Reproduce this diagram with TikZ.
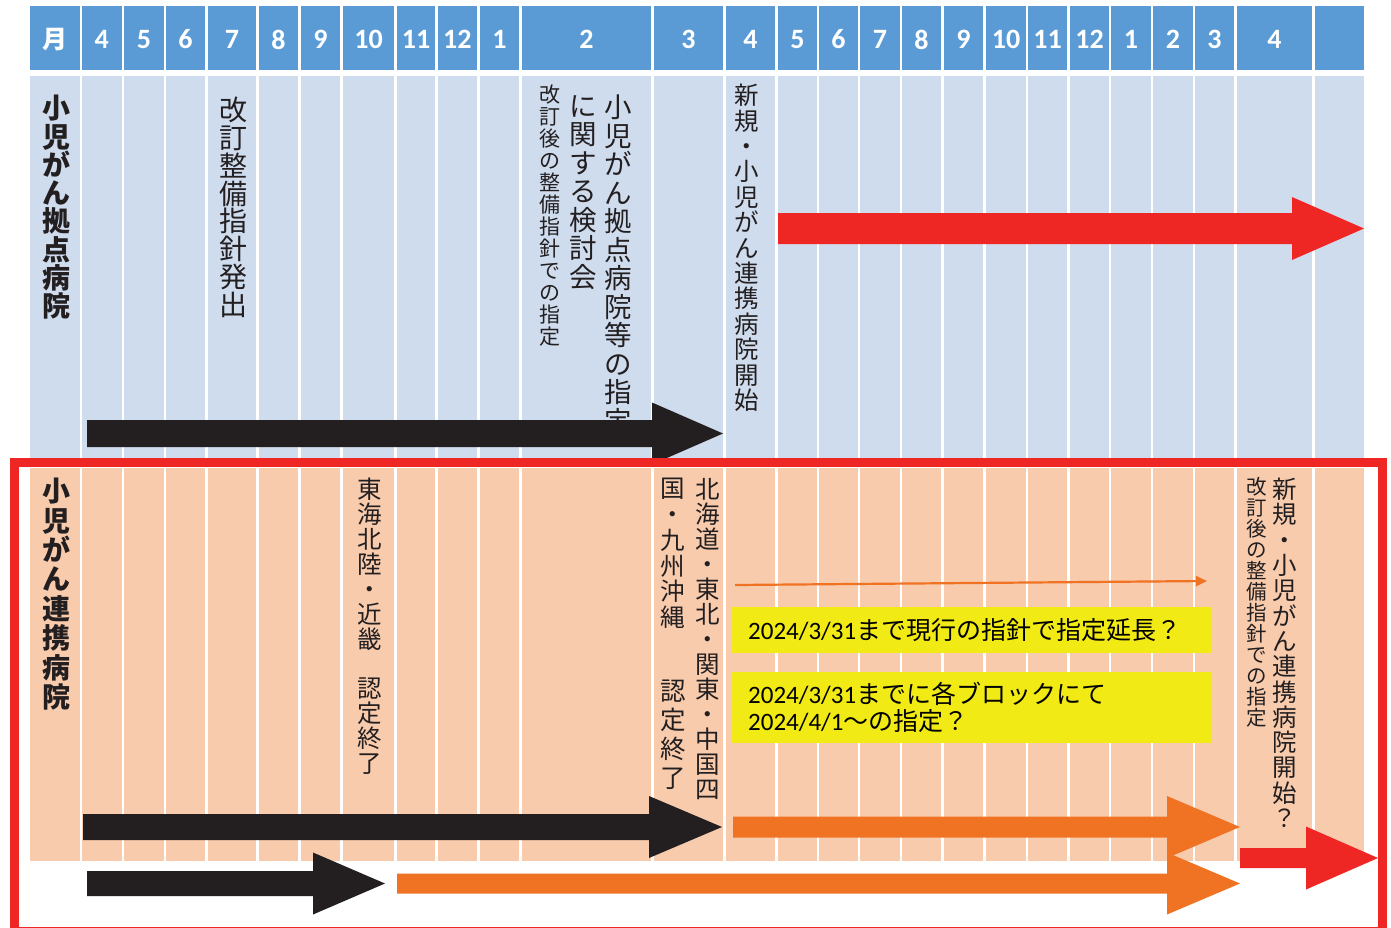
\documentclass[tikz,border=0pt]{standalone}
\usepackage{fontspec}
\usetikzlibrary{arrows.meta}
\setmainfont{Carlito}
\newfontfamily\jpfont{Noto Sans CJK JP}
\newfontfamily\calfont{Carlito}
\lineskiplimit=-100pt
\definecolor{hdr}{HTML}{5B9BD5}
\definecolor{bblue}{HTML}{CFDCEE}
\definecolor{peach}{HTML}{F8CBAD}
\definecolor{ylw}{HTML}{F1EA14}
\definecolor{rd}{HTML}{EE2624}
\definecolor{org}{HTML}{F07323}
\definecolor{blk}{HTML}{231F20}
\newcommand\blockarrow[7]{\fill[#1] (#2,{#5-#6}) -- (#3,{#5-#6}) -- (#3,{#5-#7}) -- (#4,#5) -- (#3,{#5+#7}) -- (#3,{#5+#6}) -- (#2,{#5+#6}) -- cycle;}
\begin{document}
\begin{tikzpicture}[x=1pt,y=-1pt,
  vt/.style={inner sep=0pt, align=center, anchor=north, text=blk},
  hdrtxt/.style={text=white, inner sep=0pt, font=\calfont\bfseries\fontsize{28}{30}\selectfont},
  ybox/.style={fill=ylw, anchor=north west, inner xsep=16pt, inner ysep=0pt, text width=448pt, align=left, font=\jpfont\fontsize{25}{27}\selectfont, text=black},
]
\fill[white] (0,0) rectangle (1391,928);
\useasboundingbox (0,0) rectangle (1391,928);
% columns
\foreach \l/\r/\t [count=\i from 0] in {30/80/{\jpfont\fontsize{25}{30}\selectfont 月}, 82/121.5/4, 124/164/5, 166/205/6, 208/256/7, 259/298/8, 301/340/9, 343/394/10, 397/435/11, 437.5/477/12, 480/519/1, 522/651/2, 654/723/3, 726/775/4, 778/817/5, 819/858/6, 860/900/7, 902/941/8, 944/983/9, 986/1026/10, 1028/1067/11, 1070/1109/12, 1111/1151/1, 1153/1193/2, 1195/1234/3, 1237/1312/4, 1315/1364/{}}{
  \fill[hdr] (\l,6) rectangle (\r,70.5);
  \fill[bblue] (\l,76) rectangle (\r,458);
  \fill[peach] (\l,468) rectangle (\r,861);
  \node[hdrtxt] (h\i) at ({(\l+\r)/2},39.5) {\t};
}
% upper texts
\node[vt, font=\jpfont\bfseries\fontsize{28}{28.3}\selectfont] (u1) at (56,95) {小\\児\\が\\ん\\拠\\点\\病\\院};
\node[vt, font=\jpfont\fontsize{28}{27.8}\selectfont] (u2) at (233,97) {改\\訂\\整\\備\\指\\針\\発\\出};
\node[vt, font=\jpfont\fontsize{27.5}{28.5}\selectfont] (u3a) at (618,95) {小\\児\\が\\ん\\拠\\点\\病\\院\\等\\の\\指\\定};
\node[vt, font=\jpfont\fontsize{27.5}{28.5}\selectfont] (u3b) at (583,95) {に\\関\\す\\る\\検\\討\\会};
\node[vt, font=\jpfont\fontsize{21}{22}\selectfont] (u3c) at (550,85) {改\\訂\\後\\の\\整\\備\\指\\針\\で\\の\\指\\定};
\node[vt, font=\jpfont\fontsize{24.5}{25.4}\selectfont] (u4) at (747,84) {新\\規\\・\\小\\児\\が\\ん\\連\\携\\病\\院\\開\\始};
% lower texts
\node[vt, font=\jpfont\bfseries\fontsize{28}{29.4}\selectfont] (l1) at (56,478) {小\\児\\が\\ん\\連\\携\\病\\院};
\node[vt, font=\jpfont\fontsize{24.5}{24.9}\selectfont] (l2) at (370,478) {東\\海\\北\\陸\\・\\近\\畿\\　\\認\\定\\終\\了};
\node[vt, font=\jpfont\fontsize{24.5}{25}\selectfont] (l3a) at (708,478) {北\\海\\道\\・\\東\\北\\・\\関\\東\\・\\中\\国\\四};
\node[vt, font=\jpfont\fontsize{24.5}{25.8}\selectfont] (l3b) at (673,478) {国\\・\\九\\州\\沖\\縄};
\node[vt, font=\jpfont\fontsize{25.5}{29}\selectfont] (l3c) at (673,680) {認\\定\\終\\了};
\node[vt, font=\jpfont\fontsize{24.5}{25.3}\selectfont] (l4a) at (1285,478) {新\\規\\・\\小\\児\\が\\ん\\連\\携\\病\\院\\開\\始\\？};
\node[vt, font=\jpfont\fontsize{20.5}{21}\selectfont] (l4b) at (1257,477) {改\\訂\\後\\の\\整\\備\\指\\針\\で\\の\\指\\定};
% yellow boxes
\node[ybox, minimum height=46pt] (y1) at (732,607) {{\calfont 2024/3/31}まで現行の指針で指定延長？};
\node[ybox, minimum height=71pt] (y2) at (732,672) {{\calfont 2024/3/31}までに各ブロックにて\\{\calfont 2024/4/1}～の指定？};
% thin arrow
\coordinate (ta) at (735,585);
\coordinate (tb) at (1207,581);
\draw[org, line width=2.2pt, -{Triangle[length=11pt,width=10pt]}] (ta) -- (tb);
% block arrows
\blockarrow{blk}{87}{652}{723}{433.5}{13.5}{31}
\blockarrow{rd}{778}{1292}{1364}{228.5}{15.5}{31.5}
\blockarrow{blk}{83}{649}{722}{827}{13}{31}
\blockarrow{blk}{87}{313}{385}{883.5}{12.5}{31}
\blockarrow{org}{733}{1167}{1240}{827}{10.5}{31}
\blockarrow{org}{397}{1167}{1240}{883.5}{10}{31}
\blockarrow{rd}{1240}{1306}{1378}{858}{10}{31.5}
% red frame
\draw[rd, line width=9pt] (14,462) rectangle (1382,931);
\end{tikzpicture}
\end{document}
